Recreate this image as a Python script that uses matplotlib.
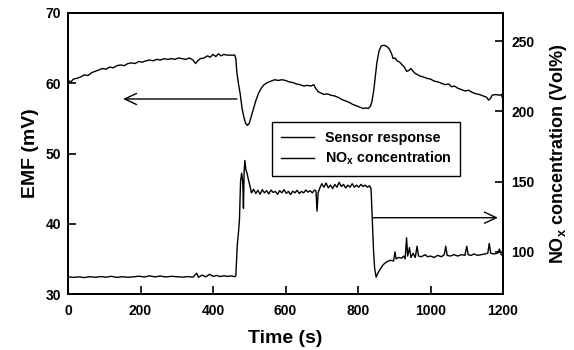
import matplotlib
matplotlib.use("Agg")
import matplotlib.pyplot as plt

plt.rcParams['font.family'] = ['Liberation Sans', 'DejaVu Sans']
plt.rcParams['font.weight'] = 'bold'
plt.rcParams['mathtext.default'] = 'regular'

# Sensor response (EMF, mV) vs time (s)
emf_t = [0, 8, 15, 25, 35, 45, 55, 65, 75, 85, 95, 105, 115, 125, 135, 145, 155, 165, 175, 185,
         195, 205, 215, 225, 235, 245, 255, 265, 275, 285, 295, 305, 315, 325, 335, 345, 352, 358,
         365, 375, 385, 392, 400, 408, 415, 422, 430, 440, 450, 460, 463, 466, 470, 475, 480, 485,
         490, 495, 500, 505, 511, 518, 525, 533, 541, 550, 560, 570, 580, 590, 600, 610, 620, 630,
         640, 650, 660, 670, 678, 683, 690, 698, 706, 715, 725, 735, 745, 755, 765, 775, 785, 795,
         805, 815, 822, 828, 834, 838, 841, 844, 848, 852, 858, 864, 870, 878, 886, 892, 897, 902,
         908, 915, 922, 928, 934, 940, 946, 952, 958, 965, 972, 980, 990, 1000, 1010, 1020, 1030,
         1040, 1050, 1058, 1066, 1075, 1085, 1095, 1105, 1115, 1125, 1135, 1145, 1155, 1160, 1165,
         1170, 1180, 1190, 1195, 1200]
emf_v = [60.4, 60.2, 60.6, 60.7, 60.9, 61.2, 61.1, 61.5, 61.7, 61.9, 62.1, 62.0, 62.3, 62.2, 62.5,
         62.6, 62.5, 62.8, 62.9, 62.8, 63.1, 63.0, 63.2, 63.3, 63.2, 63.4, 63.3, 63.5, 63.4, 63.5,
         63.4, 63.6, 63.5, 63.4, 63.6, 63.3, 62.8, 63.2, 63.5, 63.6, 63.9, 63.7, 64.1, 63.8, 64.2,
         63.9, 64.1, 64.0, 64.0, 64.0, 63.5, 61.5, 60.0, 58.5, 56.5, 55.2, 54.3, 54.0, 54.3, 55.2,
         56.3, 57.5, 58.5, 59.3, 59.8, 60.1, 60.3, 60.5, 60.4, 60.5, 60.4, 60.2, 60.1, 59.9, 59.8,
         59.6, 59.7, 59.6, 59.8, 59.3, 58.8, 58.6, 58.4, 58.5, 58.3, 58.2, 58.0, 57.7, 57.5, 57.3,
         57.0, 56.8, 56.6, 56.4, 56.5, 56.4, 56.7, 57.3, 58.2, 59.2, 61.0, 62.9, 64.6, 65.3, 65.4,
         65.3, 64.9, 64.3, 63.5, 63.6, 63.2, 63.0, 62.6, 62.3, 61.7, 61.8, 62.1, 61.7, 61.4, 61.2,
         61.0, 60.9, 60.7, 60.6, 60.3, 60.2, 60.0, 59.8, 59.9, 59.5, 59.6, 59.3, 59.1, 58.9, 59.0,
         58.7, 58.5, 58.4, 58.2, 58.0, 57.6, 57.8, 58.3, 58.4, 58.3, 58.4, 57.8]

# NOx concentration (Vol%) vs time (s)
nox_t = [0, 15, 30, 45, 60, 75, 90, 105, 120, 135, 150, 165, 180, 195, 210, 225, 240, 255, 270,
         285, 300, 315, 330, 345, 355, 360, 370, 380, 390, 400, 410, 420, 430, 440, 450, 460,
         463, 467, 470, 473, 476, 479, 482, 484, 486, 488, 491, 494, 498, 502, 506,
         512, 518, 524, 530, 536, 542, 548, 554, 560, 566, 572, 578, 584, 590, 596, 602, 608, 614,
         620, 626, 632, 638, 644, 650, 656, 662, 668, 674, 680, 684, 687, 690, 694, 700, 706, 712,
         718, 724, 730, 736, 742, 748, 754, 760, 766, 772, 778, 784, 790, 796, 802, 808, 814, 820,
         826, 832, 836, 840, 843, 846, 850, 855, 862, 870, 880, 890, 898, 902, 905, 912, 920, 926,
         930, 934, 937, 942, 946, 952, 958, 963, 967, 975, 985, 992, 1000, 1010, 1020, 1030, 1038,
         1042, 1046, 1055, 1065, 1075, 1085, 1095, 1100, 1104, 1112, 1120, 1130, 1140, 1150, 1158,
         1162, 1166, 1175, 1185, 1190, 1195, 1200]
nox_v = [82.3, 81.8, 82.2, 81.7, 82.3, 81.9, 82.4, 82.0, 82.6, 81.8, 82.3, 81.9, 82.2, 82.7, 82.1,
         82.9, 82.2, 82.8, 82.1, 82.6, 82.3, 82.0, 82.4, 82.0, 84.8, 81.9, 83.5, 82.2, 84.0, 82.6,
         83.2, 82.4, 83.0, 82.5, 82.9, 82.3,
         83.0, 105.0, 113.0, 123.0, 150.0, 156.0, 150.0, 131.0, 158.0, 165.0, 158.0, 156.0, 151.0,
         147.0, 142.0,
         144.5, 141.5, 143.8, 141.0, 144.2, 142.0, 143.5, 141.2, 144.0, 142.3, 143.0, 141.0, 143.6,
         142.0, 144.3, 141.6, 143.0, 140.8, 143.2, 142.0, 143.8, 141.5, 143.0, 142.0, 144.0, 142.5,
         143.5, 142.0, 144.0, 143.5, 129.0, 142.0, 145.0, 148.5, 146.0, 149.0, 145.5, 147.5, 145.0,
         148.0, 146.0, 149.5, 146.5, 148.0, 145.5, 147.5, 146.0, 148.5, 146.0, 147.5, 146.0, 148.0,
         146.5, 147.5, 146.0, 147.0, 145.0, 120.0, 100.0, 88.0, 82.0, 85.0, 88.0, 91.0, 93.0, 94.0,
         93.5, 100.0, 95.0, 96.0, 95.5, 97.0, 95.0, 110.0, 97.0, 103.0, 96.0, 99.0, 96.0, 104.0,
         97.0, 96.5, 98.0, 96.5, 97.0, 96.0, 97.5, 96.5, 98.0, 104.0, 97.5, 97.0, 98.0, 97.0, 98.0,
         97.5, 104.0, 98.0, 97.5, 98.5, 97.5, 98.0, 98.5, 99.0, 106.0, 99.0, 98.5, 99.0, 102.0,
         98.0, 97.5]

x_ticks = [0, 200, 400, 600, 800, 1000, 1200]
left_ticks = [30, 40, 50, 60, 70]
right_ticks = [100, 150, 200, 250]

fig = plt.figure(figsize=(5.74, 3.5), dpi=100)
ax = fig.add_axes([68/574, 1-294/350, 435/574, 281/350])
ax2 = ax.twinx()

l1, = ax.plot(emf_t, emf_v, color='black', lw=1.0, label='Sensor response')
l2, = ax2.plot(nox_t, nox_v, color='black', lw=1.0, label='NO$_x$ concentration')

ax.set_xlim(0, 1200)
ax.set_ylim(30, 70)
ax2.set_ylim(70, 270)
ax.set_xticks(x_ticks)
ax.set_yticks(left_ticks)
ax2.set_yticks(right_ticks)

for a in (ax, ax2):
    for s in a.spines.values():
        s.set_linewidth(1.4)
ax.tick_params(axis='both', direction='in', length=6, width=1.2, labelsize=10)
ax.tick_params(axis='y', pad=5)
ax.tick_params(axis='x', pad=7)
ax2.tick_params(axis='y', direction='in', length=5.5, width=1.2, labelsize=10, pad=6)
for lab in ax.get_xticklabels() + ax.get_yticklabels() + ax2.get_yticklabels():
    lab.set_fontweight('bold')

ax.set_xlabel('Time (s)', fontsize=14, fontweight='bold', labelpad=9)
ax.set_ylabel('EMF (mV)', fontsize=14, fontweight='bold', labelpad=5)
ax2.set_ylabel('NO$_x$ concentration (Vol%)', fontsize=13, fontweight='bold', labelpad=10)

ax.annotate('', xy=(152, 57.76), xytext=(466, 57.76),
            arrowprops=dict(arrowstyle='->,head_length=0.85,head_width=0.4', color='black', lw=1.0,
                            shrinkA=0, shrinkB=0))
ax.annotate('', xy=(1186, 40.86), xytext=(841, 40.86),
            arrowprops=dict(arrowstyle='->,head_length=0.85,head_width=0.4', color='black', lw=1.0,
                            shrinkA=0, shrinkB=0))

leg = ax2.legend(handles=[l1, l2], loc='upper left', bbox_to_anchor=(0.469, 0.612),
                 frameon=True, fancybox=False, edgecolor='black', framealpha=1,
                 prop={'size': 10.3, 'weight': 'bold'}, handlelength=2.3, handletextpad=0.8,
                 labelspacing=0.35, borderpad=0.6, borderaxespad=0)
leg.get_frame().set_linewidth(1.0)

fig.savefig('out.png', dpi=100)
